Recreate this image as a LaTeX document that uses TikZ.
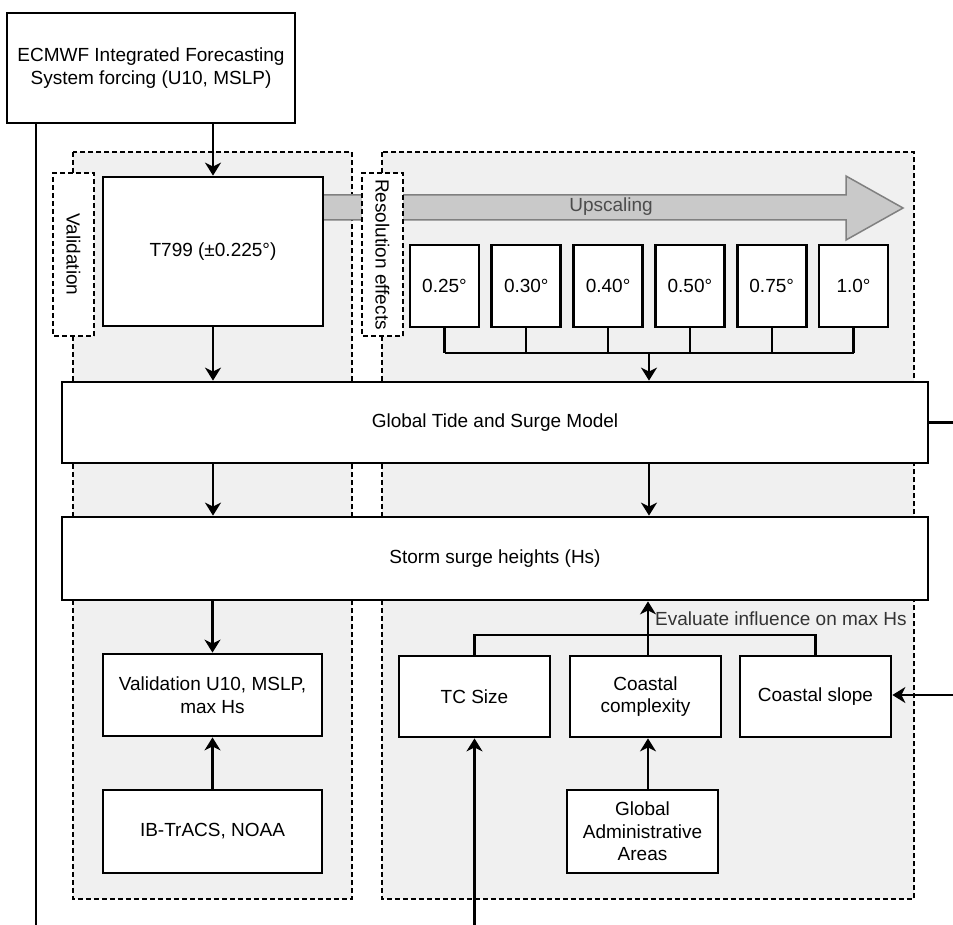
\documentclass[tikz,border=0pt]{standalone}
\usepackage{fontspec}
\setmainfont{Liberation Sans}
\usetikzlibrary{arrows.meta}
\begin{document}
\begin{tikzpicture}[x=1pt,y=-1pt,
  every node/.style={font=\fontsize{19}{22.5}\selectfont},
  box/.style={draw=black, line width=2.8pt, fill=white, inner sep=0pt, align=center},
  group/.style={draw=black, dash pattern=on 5pt off 3pt, line width=1.3pt, fill=black!6},
  lab/.style={draw=black, dash pattern=on 5pt off 3pt, line width=1.3pt, fill=white, inner sep=0pt, rotate=-90, minimum width=163, minimum height=41},
  arr/.style={-{Stealth[length=13pt,width=16pt,inset=4pt]}, line width=2.2pt},
  ln/.style={line width=2.2pt}
]
\useasboundingbox[fill=white] (0,0) rectangle (953,925);
% groups
\draw[group] (73,152) rectangle (352,899);
\draw[group] (382,152) rectangle (914,899);
% upscaling arrow
\draw[draw=black!50, fill=black!21, line width=1.5pt]
  (323,195) -- (846,195) -- (846,176) -- (903,208) -- (846,240) -- (846,220) -- (323,220) -- cycle;
\node[text=black!70] (up) at (611,207) {Upscaling};
% dashed labels
\node[lab] (vlab) at (73.5,254.5) {Validation};
\node[lab] (rlab) at (382.5,254.5) {Resolution effects};
% boxes
\node[box, minimum width=288, minimum height=110] (ecmwf) at (151,68) {ECMWF Integrated Forecasting\\System forcing (U10, MSLP)};
\node[box, minimum width=220, minimum height=149] (t799) at (213,251.5) {T799 (±0.225°)};
\foreach \i/\t in {0/0.25°,1/0.30°,2/0.40°,3/0.50°,4/0.75°,5/1.0°}{
  \node[box, minimum width=69, minimum height=82] (r\i) at ({444.5+81.8*\i},286) {\t};
}
\node[box, minimum width=866, minimum height=81] (gtsm) at (495,422.5) {Global Tide and Surge Model};
\node[box, minimum width=866, minimum height=83] (surge) at (495,558.5) {Storm surge heights (Hs)};
\node[box, minimum width=219, minimum height=82] (valid) at (212.5,695) {Validation U10, MSLP,\\max Hs};
\node[box, minimum width=219, minimum height=83] (ibtracs) at (212.5,831.5) {IB-TrACS, NOAA};
\node[box, minimum width=151, minimum height=81] (tcsize) at (474.5,696.5) {TC Size};
\node[box, minimum width=151, minimum height=81] (complex) at (645.5,696.5) {Coastal\\complexity};
\node[box, minimum width=151, minimum height=81] (slope) at (815.5,696.5) {Coastal slope};
\node[box, minimum width=151, minimum height=83] (gaa) at (642.5,831.5) {Global\\Administrative\\Areas};
% coordinates
\coordinate (lbot) at (36,925);
\coordinate (bj) at (649,353);
\coordinate (ej) at (648,635);
\coordinate (gtout) at (953,422.5);
\coordinate (slin) at (953,695);
\coordinate (tcbot) at (474.5,925);
\coordinate (cx) at (648,0);
% connectors
\draw[ln] (lbot |- ecmwf.south) -- (lbot);
\draw[arr] (ecmwf.south -| t799.north) -- (t799.north);
\draw[arr] (t799.south) -- (t799.south |- gtsm.north);
\foreach \i in {0,...,5}{ \draw[ln] (r\i.south) -- (r\i.south |- bj); }
\draw[ln] (r0.south |- bj) -- (r5.south |- bj);
\draw[arr] (bj) -- (bj |- gtsm.north);
\draw[ln] (gtsm.east) -- (gtout);
\draw[arr] (gtsm.south -| t799.south) -- (surge.north -| t799.south);
\draw[arr] (gtsm.south -| bj) -- (surge.north -| bj);
\draw[arr] (surge.south -| valid.north) -- (valid.north);
\draw[arr] (ibtracs.north) -- (valid.south);
\draw[ln] (tcsize.north) -- (tcsize.north |- ej) -- (slope.north |- ej) -- (slope.north);
\draw[arr] (complex.north -| ej) -- (surge.south -| ej);
\draw[arr] (gaa.north -| cx) -- (complex.south -| cx);
\draw[arr] (tcbot) -- (tcsize.south);
\draw[arr] (slin) -- (slin -| slope.east);
\node[anchor=west, text=black!80, inner sep=0pt] (eval) at (655,619) {Evaluate influence on max Hs};
\end{tikzpicture}
\end{document}
